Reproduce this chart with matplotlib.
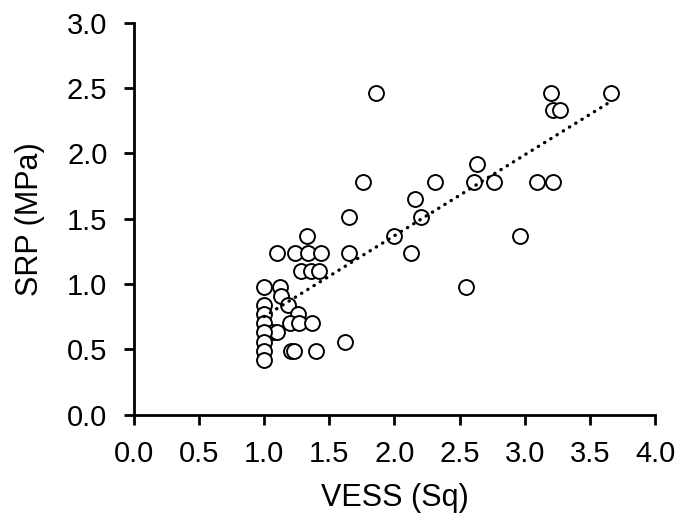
import numpy as np
import matplotlib
matplotlib.use('Agg')
import matplotlib.pyplot as plt
from matplotlib.ticker import FormatStrFormatter

# VESS score vs soil resistance to penetration
vess = [1.86, 3.20, 3.66, 3.22, 3.27, 2.63,
        1.76, 2.31, 2.61, 2.76, 3.09, 3.22,
        2.16, 1.65, 2.20, 1.33, 2.00, 2.96,
        1.10, 1.24, 1.34, 1.44, 1.65, 2.13,
        1.28, 1.36, 1.42,
        1.00, 1.12, 2.55, 1.13,
        1.00, 1.18, 1.00, 1.26,
        1.00, 1.20, 1.27, 1.37,
        1.07, 1.10, 1.00,
        1.00, 1.62,
        1.00, 1.21, 1.23, 1.40,
        1.00]
srp = [2.46, 2.46, 2.46, 2.33, 2.33, 1.92,
       1.78, 1.78, 1.78, 1.78, 1.78, 1.78,
       1.65, 1.51, 1.51, 1.37, 1.37, 1.37,
       1.24, 1.24, 1.24, 1.24, 1.24, 1.24,
       1.10, 1.10, 1.10,
       0.98, 0.98, 0.98, 0.91,
       0.84, 0.84, 0.77, 0.77,
       0.70, 0.70, 0.70, 0.70,
       0.63, 0.63, 0.63,
       0.56, 0.56,
       0.49, 0.49, 0.49, 0.49,
       0.42]

plt.rcParams['font.family'] = ['Liberation Sans', 'DejaVu Sans']

fig = plt.figure(figsize=(6.86, 5.25), dpi=100)
ax = fig.add_axes([0.195, 0.21, 0.76, 0.747])

ax.scatter(vess, srp, s=115, facecolor='white', edgecolor='black', linewidth=1.4, zorder=2)

# linear trendline (least squares, like the spreadsheet one)
k, b = np.polyfit(vess, srp, 1)
xs = np.array([min(vess), max(vess)])
ax.plot(xs, k * xs + b, color='black', linewidth=2.4, linestyle=(0, (0.1, 2.1)),
        dash_capstyle='round', zorder=3)

ax.set_xlim(0, 4.0)
ax.set_ylim(0, 3.0)
ax.set_xticks(np.arange(0, 4.01, 0.5))
ax.set_yticks(np.arange(0, 3.01, 0.5))
ax.xaxis.set_major_formatter(FormatStrFormatter('%.1f'))
ax.yaxis.set_major_formatter(FormatStrFormatter('%.1f'))

for s in ['top', 'right']:
    ax.spines[s].set_visible(False)
for s in ['left', 'bottom']:
    ax.spines[s].set_linewidth(2.0)
ax.tick_params(direction='out', length=7, width=2.0, labelsize=21)
ax.tick_params(axis='x', pad=11)
ax.tick_params(axis='y', pad=12)

ax.set_xlabel('VESS (Sq)', fontsize=22, labelpad=11)
ax.set_ylabel('SRP (MPa)', fontsize=22, labelpad=16)

fig.savefig('out.png', dpi=100)
